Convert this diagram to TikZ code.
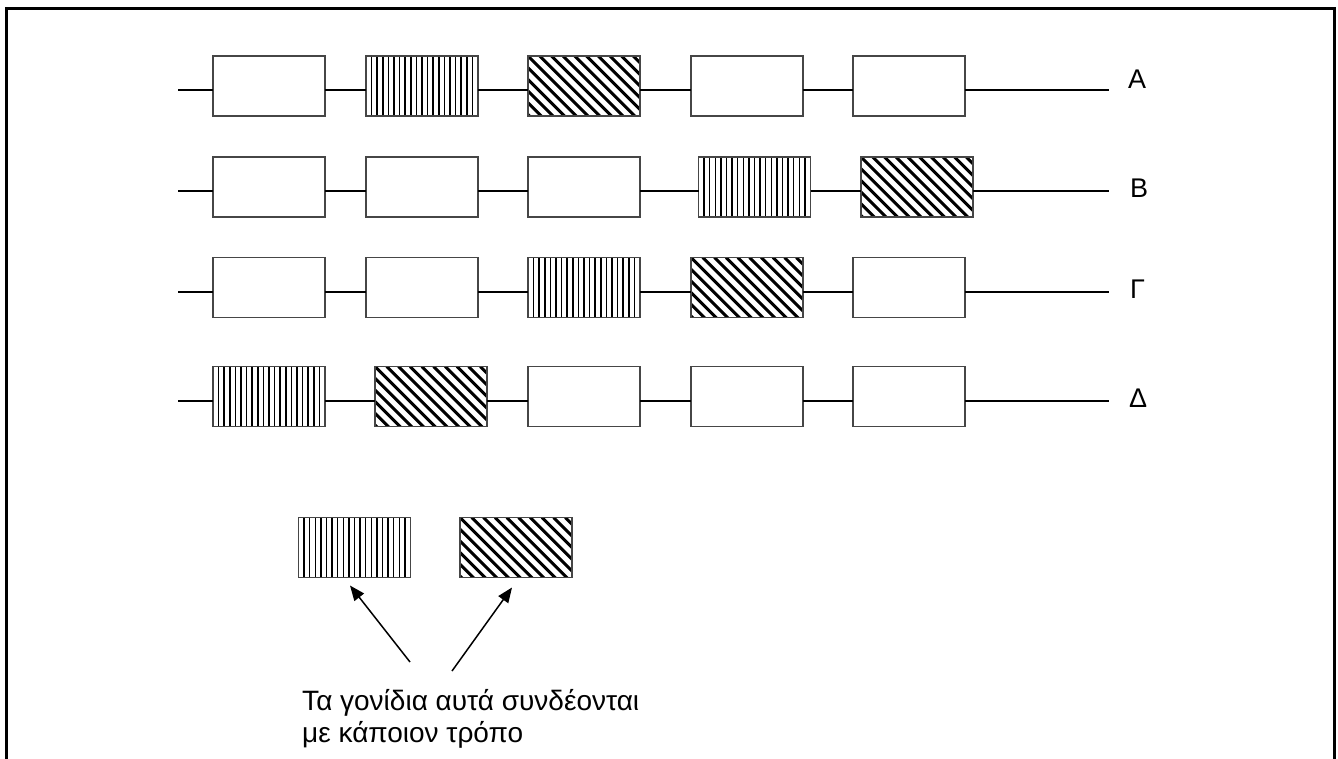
\documentclass[tikz,border=0pt]{standalone}
\usepackage{fontspec}
\setmainfont{Liberation Sans}
\usetikzlibrary{calc,arrows.meta}
\definecolor{boxgray}{RGB}{70,70,70}
\tikzset{
  gene/.style={draw=boxgray, line width=1.5pt, fill=white, minimum width=112pt,
    minimum height=60pt, inner sep=0pt, outer sep=0pt},
  vhatch/.style={gene, path picture={
    \foreach \k in {1,...,20}{
      \draw[line width=1.5pt,black]
        ($(path picture bounding box.south west)+(\k*5.6pt,0pt)$) --
        ($(path picture bounding box.north west)+(\k*5.6pt,0pt)$);}}},
  dhatch/.style={gene, path picture={
    \foreach \k in {-7,...,10}{
      \draw[line width=3pt,black]
        ($(path picture bounding box.north west)+(\k*11.7pt,0pt)$) -- ++(80pt,-80pt);}}},
  chrom/.style={line width=1.5pt, black},
  ptr/.style={line width=1.5pt, -{Triangle[length=15pt,width=12pt]}},
  lbl/.style={font=\fontsize{27}{30}\selectfont, anchor=base west, inner sep=0pt},
  txt/.style={font=\fontsize{28}{32}\selectfont, anchor=base west, inner sep=0pt},
}
\begin{document}
\begin{tikzpicture}[x=1pt,y=-1pt]
\useasboundingbox (0,0) rectangle (1338,758);
\fill[white] (0,0) rectangle (1338,758);
% frame
\draw[line width=3pt] (6,762) -- (6,8) -- (1334,8) -- (1334,762);

% row A
\coordinate (As) at (178,90); \coordinate (Ae) at (1109,90);
\node[gene]   (A1) at (269,86) {};
\node[vhatch] (A2) at (422,86) {};
\node[dhatch] (A3) at (584,86) {};
\node[gene]   (A4) at (747,86) {};
\node[gene]   (A5) at (909,86) {};
\draw[chrom] (As) -- (As -| A1.west) (As -| A1.east) -- (As -| A2.west)
  (As -| A2.east) -- (As -| A3.west) (As -| A3.east) -- (As -| A4.west)
  (As -| A4.east) -- (As -| A5.west) (As -| A5.east) -- (Ae);
\node[lbl] (LA) at (1128,88) {A};

% row B
\coordinate (Bs) at (178,191); \coordinate (Be) at (1109,191);
\node[gene]   (B1) at (269,187) {};
\node[gene]   (B2) at (422,187) {};
\node[gene]   (B3) at (584,187) {};
\node[vhatch] (B4) at (754.5,187) {};
\node[dhatch] (B5) at (917,187) {};
\draw[chrom] (Bs) -- (Bs -| B1.west) (Bs -| B1.east) -- (Bs -| B2.west)
  (Bs -| B2.east) -- (Bs -| B3.west) (Bs -| B3.east) -- (Bs -| B4.west)
  (Bs -| B4.east) -- (Bs -| B5.west) (Bs -| B5.east) -- (Be);
\node[lbl] (LB) at (1130,197) {Β};

% row Gamma
\coordinate (Gs) at (178,292); \coordinate (Ge) at (1109,292);
\node[gene]   (G1) at (269,287.5) {};
\node[gene]   (G2) at (422,287.5) {};
\node[vhatch] (G3) at (584,287.5) {};
\node[dhatch] (G4) at (747,287.5) {};
\node[gene]   (G5) at (909,287.5) {};
\draw[chrom] (Gs) -- (Gs -| G1.west) (Gs -| G1.east) -- (Gs -| G2.west)
  (Gs -| G2.east) -- (Gs -| G3.west) (Gs -| G3.east) -- (Gs -| G4.west)
  (Gs -| G4.east) -- (Gs -| G5.west) (Gs -| G5.east) -- (Ge);
\node[lbl] (LG) at (1130,298) {Γ};

% row Delta
\coordinate (Ds) at (178,401); \coordinate (De) at (1109,401);
\node[vhatch] (D1) at (269,396.5) {};
\node[dhatch] (D2) at (431,396.5) {};
\node[gene]   (D3) at (584,396.5) {};
\node[gene]   (D4) at (747,396.5) {};
\node[gene]   (D5) at (909,396.5) {};
\draw[chrom] (Ds) -- (Ds -| D1.west) (Ds -| D1.east) -- (Ds -| D2.west)
  (Ds -| D2.east) -- (Ds -| D3.west) (Ds -| D3.east) -- (Ds -| D4.west)
  (Ds -| D4.east) -- (Ds -| D5.west) (Ds -| D5.east) -- (De);
\node[lbl] (LD) at (1129,407) {Δ};

% legend
\node[vhatch] (Lv) at (354.5,547.5) {};
\node[dhatch] (Ld) at (516,547.5) {};
\coordinate (p1) at (410,662);
\coordinate (p2) at (452,671);
\draw[ptr] (p1) -- ([xshift=-4.5pt,yshift=-8pt]Lv.south);
\draw[ptr] (p2) -- ([xshift=-4pt,yshift=-10pt]Ld.south);

\node[txt] (t1) at (302,710) {Τα γονίδια αυτά συνδέονται};
\node[txt] (t2) at (302,742) {με κάποιον τρόπο};
\end{tikzpicture}
\end{document}
